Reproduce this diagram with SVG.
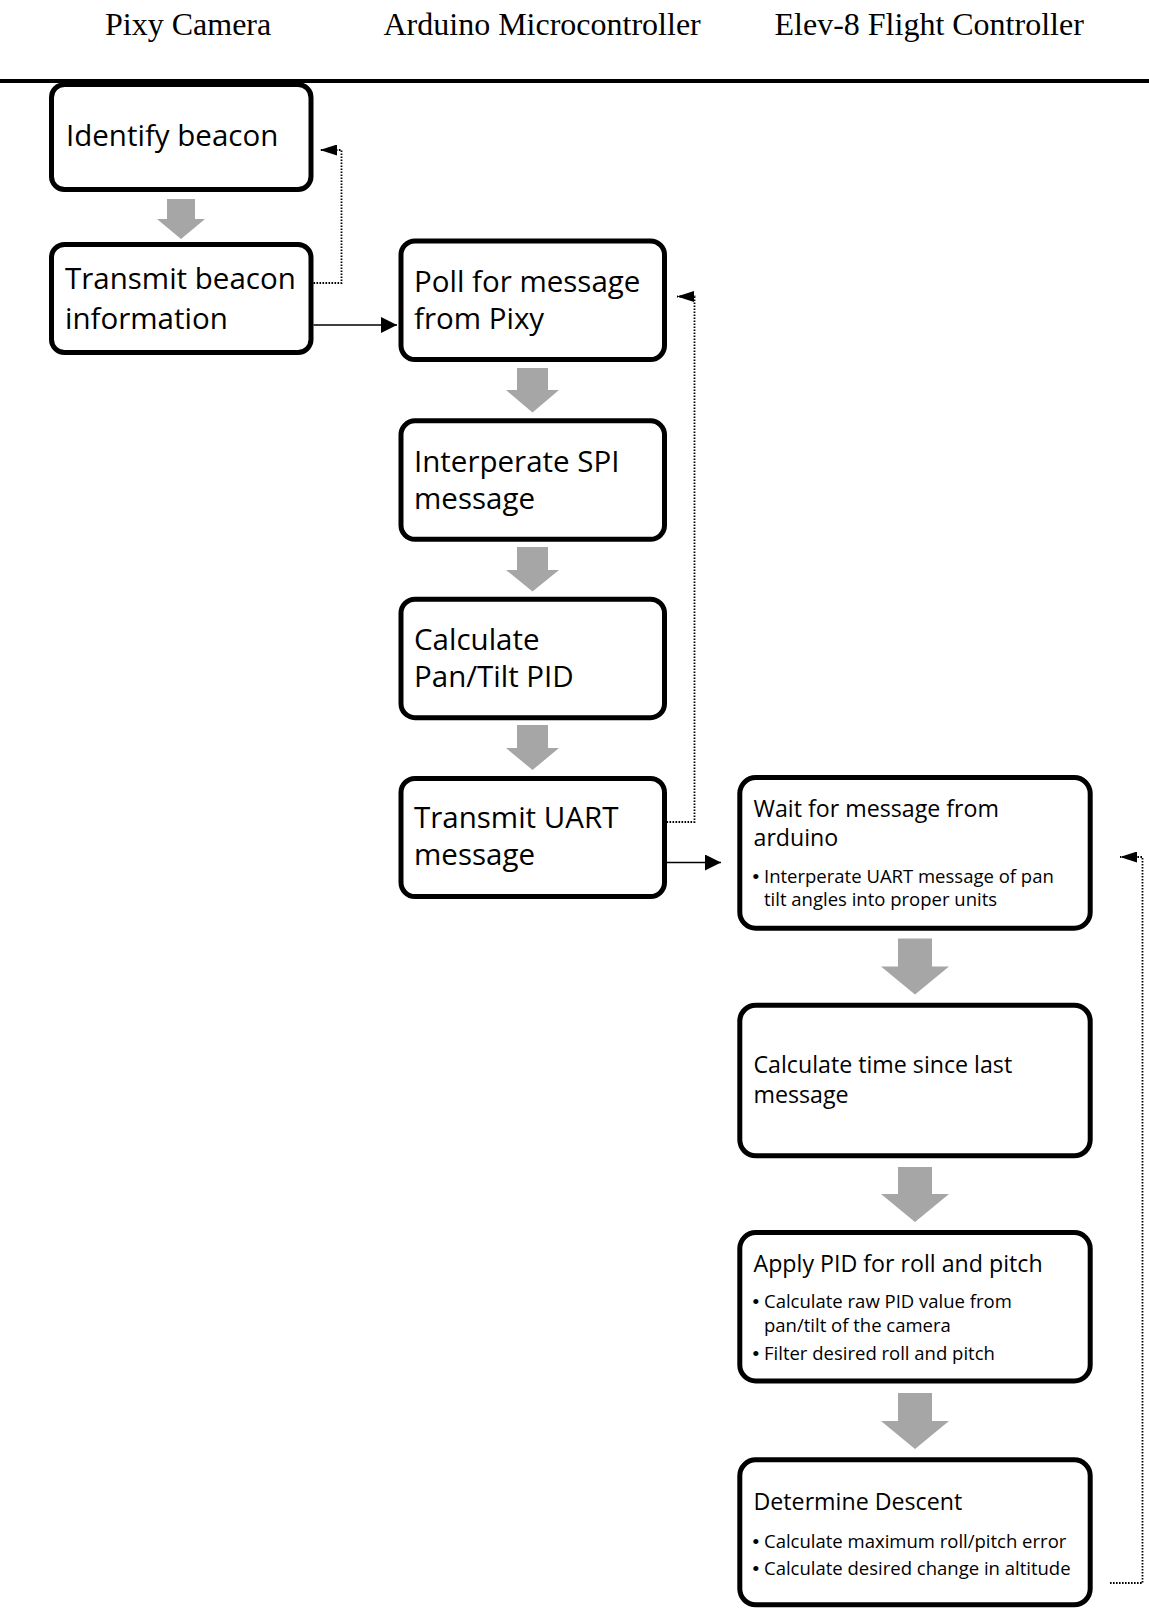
<svg xmlns="http://www.w3.org/2000/svg" width="1149" height="1608" viewBox="0 0 1149 1608">
<style>
.bg{fill:#ffffff}
.hdr{font-family:"Liberation Serif","Times New Roman",serif;font-size:32px;fill:#000}
.box{fill:#ffffff;stroke:#000;stroke-width:5}
.big{font-family:"Open Sans","Noto Sans",sans-serif;font-size:29.5px;fill:#000}
.mid{font-family:"Open Sans","Noto Sans",sans-serif;font-size:23.2px;fill:#000}
.sm{font-family:"Open Sans","Noto Sans",sans-serif;font-size:18.5px;fill:#000}
.bul{font-family:"Liberation Sans",Arial,sans-serif;font-size:19px;fill:#000}
.garrow{fill:#a6a6a6}
.solid{fill:none;stroke:#000;stroke-width:1.6}
.dot{fill:none;stroke:#000;stroke-width:1.8;stroke-dasharray:1.6 1.4}
</style>
<defs>
<marker id="headSolid" viewBox="0 0 16 16" refX="16" refY="8" markerWidth="16" markerHeight="16" markerUnits="userSpaceOnUse" orient="auto">
<path d="M0,0 L16,8 L0,16 z" fill="#000" stroke="none"/>
</marker>
<marker id="headDot" viewBox="0 0 17 11" refX="17" refY="5.5" markerWidth="17" markerHeight="11" markerUnits="userSpaceOnUse" orient="auto">
<path d="M0,0 L17,5.5 L0,11 z" fill="#000" stroke="none"/>
</marker>
</defs>
<rect class="bg" x="0" y="0" width="1149" height="1608"/>

<g id="header">
<text class="hdr" x="105" y="35">Pixy Camera</text>
<text class="hdr" x="383.5" y="35">Arduino Microcontroller</text>
<text class="hdr" x="774.5" y="35">Elev-8 Flight Controller</text>
<rect x="0" y="79" width="1149" height="4" fill="#000"/>
</g>

<g id="connectors">
<!-- gray flow arrows -->
<path class="garrow" d="M167,199 H195 V219 H205 L181,239 L157,219 H167 Z"/>
<path class="garrow" d="M517,368 H548 V390 H559 L532.5,412.5 L506,390 H517 Z"/>
<path class="garrow" d="M517,547 H548 V570 H559 L532.5,591.5 L506,570 H517 Z"/>
<path class="garrow" d="M517,725 H548 V748 H559 L532.5,770 L506,748 H517 Z"/>
<path class="garrow" d="M898,938.5 H932 V966.5 H949 L915,994.5 L881,966.5 H898 Z"/>
<path class="garrow" d="M898,1167 H932 V1194 H949 L915,1222 L881,1194 H898 Z"/>
<path class="garrow" d="M898,1393 H932 V1421 H949 L915,1449 L881,1421 H898 Z"/>
<!-- solid transfers -->
<path class="solid" d="M313.5,325 H397" marker-end="url(#headSolid)"/>
<path class="solid" d="M666.5,862.5 H721" marker-end="url(#headSolid)"/>
<!-- dotted loops -->
<path class="dot" d="M313.5,283 H341.5 V150 H320" marker-end="url(#headDot)"/>
<path class="dot" d="M666.5,822 H694.5 V296.5 H677" marker-end="url(#headDot)"/>
<path class="dot" d="M1110,1583 H1142.5 V857 H1120" marker-end="url(#headDot)"/>
</g>

<g id="identify-beacon">
<rect class="box" x="51.5" y="84.5" width="259.5" height="105" rx="13"/>
<text class="big" x="66" y="146">Identify beacon</text>
</g>

<g id="transmit-beacon">
<rect class="box" x="51.5" y="244.5" width="259.5" height="108" rx="13"/>
<text class="big" x="65" y="289">Transmit beacon</text>
<text class="big" x="65" y="328.5">information</text>
</g>

<g id="poll-pixy">
<rect class="box" x="401" y="241" width="263.5" height="118.5" rx="14"/>
<text class="big" x="414" y="292">Poll for message</text>
<text class="big" x="414" y="329">from Pixy</text>
</g>

<g id="interpret-spi">
<rect class="box" x="401" y="420.8" width="263.5" height="118.5" rx="14"/>
<text class="big" x="414" y="471.5">Interperate SPI</text>
<text class="big" x="414" y="508.5">message</text>
</g>

<g id="calc-pantilt">
<rect class="box" x="401" y="599.2" width="263.5" height="118.5" rx="14"/>
<text class="big" x="414" y="650">Calculate</text>
<text class="big" x="414" y="687">Pan/Tilt PID</text>
</g>

<g id="transmit-uart">
<rect class="box" x="401" y="778.5" width="263.5" height="118" rx="14"/>
<text class="big" x="414" y="828">Transmit UART</text>
<text class="big" x="414" y="865">message</text>
</g>

<g id="wait-arduino">
<rect class="box" x="739.8" y="777.5" width="350.4" height="150.7" rx="16"/>
<text class="mid" x="753.5" y="816.7">Wait for message from</text>
<text class="mid" x="753.5" y="846">arduino</text>
<text class="bul" x="752.5" y="883">•</text>
<text class="sm" x="764" y="883">Interperate UART message of pan</text>
<text class="sm" x="764" y="906">tilt angles into proper units</text>
</g>

<g id="calc-time">
<rect class="box" x="739.8" y="1005.2" width="350.4" height="150.6" rx="16"/>
<text class="mid" x="753.5" y="1072.7">Calculate time since last</text>
<text class="mid" x="753.5" y="1102.7">message</text>
</g>

<g id="apply-pid">
<rect class="box" x="739.8" y="1232.5" width="350.4" height="148.5" rx="16"/>
<text class="mid" x="753.5" y="1271.7">Apply PID for roll and pitch</text>
<text class="bul" x="752.5" y="1308.3">•</text>
<text class="sm" x="764" y="1308.3">Calculate raw PID value from</text>
<text class="sm" x="764" y="1331.7">pan/tilt of the camera</text>
<text class="bul" x="752.5" y="1360">•</text>
<text class="sm" x="764" y="1360">Filter desired roll and pitch</text>
</g>

<g id="determine-descent">
<rect class="box" x="739.8" y="1459.8" width="350.4" height="145" rx="16"/>
<text class="mid" x="753.5" y="1510">Determine Descent</text>
<text class="bul" x="752.5" y="1548.3">•</text>
<text class="sm" x="764" y="1548.3">Calculate maximum roll/pitch error</text>
<text class="bul" x="752.5" y="1575">•</text>
<text class="sm" x="764" y="1575">Calculate desired change in altitude</text>
</g>
</svg>
